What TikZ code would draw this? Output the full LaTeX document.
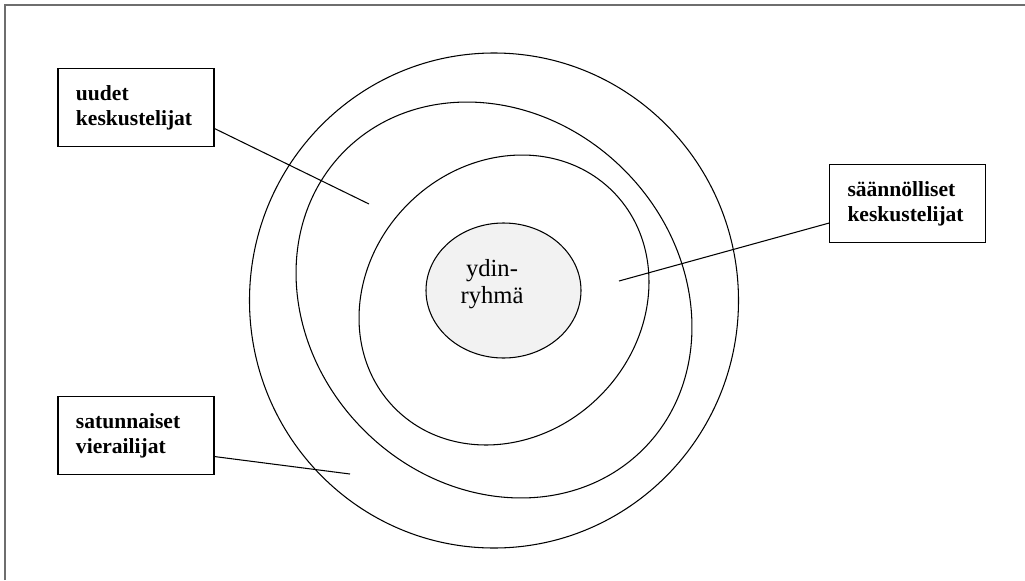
\documentclass[tikz,border=0pt]{standalone}
\usepackage{fontspec}
\setmainfont{Liberation Serif}
\usetikzlibrary{shapes.geometric}
\definecolor{coregray}{HTML}{F2F2F2}
\definecolor{framegray}{HTML}{6E6E6E}
\begin{document}
\begin{tikzpicture}[x=0.03cm, y=-0.03cm,
  ring/.style={line width=0.9pt},
  pointer/.style={line width=0.9pt},
  labelbox/.style={draw, line width=1pt, rectangle, align=left, text width=3.6cm,
    inner xsep=0.54cm, inner ysep=0pt, minimum height=2.34cm,
    font=\fontsize{18.4}{21.5}\selectfont\bfseries}]
\useasboundingbox (0,0) rectangle (1025,580);
% page frame
\draw[framegray, line width=1.3pt] (5,580) -- (5,5) -- (1025,5);

% rings
\draw[ring] (494,300.5) ellipse [x radius=244.5, y radius=247.5];
\draw[ring, rotate around={-45:(494,300)}] (494,300) ellipse [x radius=211, y radius=184];
\draw[ring, rotate around={45:(504,300)}] (504,300) ellipse [x radius=153.7, y radius=135.7];

% core group
\node[ellipse, draw, line width=0.9pt, fill=coregray, minimum width=4.65cm,
  minimum height=4.05cm, inner sep=0pt] (core) at (503.5,290.5) {};
\node[align=center, font=\fontsize{21}{23.5}\selectfont] (coretext) at (492,284) {ydin-\\ryhmä};

% labels
\node[labelbox] (uud) at (136,107.5) {uudet\\keskustelijat};
\node[labelbox] (saan) at (907.5,203.5) {säännölliset\\keskustelijat};
\node[labelbox] (sat) at (136,435.5) {satunnaiset\\vierailijat};

\coordinate (uudend) at (369,204);
\coordinate (saanend) at (619,281);
\coordinate (satend) at (350,474);
\draw[pointer] (uud.-15) -- (uudend);
\draw[pointer] (saan.194) -- (saanend);
\draw[pointer] (sat.-15.6) -- (satend);
\end{tikzpicture}
\end{document}
